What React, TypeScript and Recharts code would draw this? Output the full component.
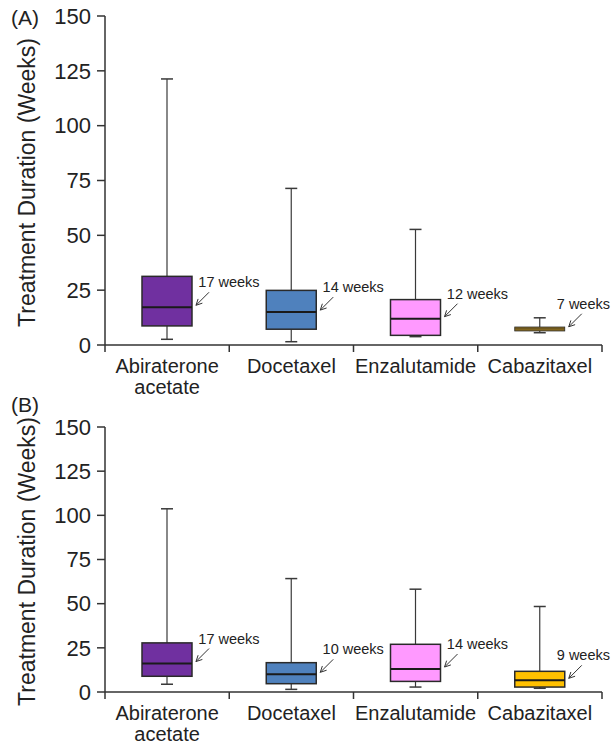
import React from 'react';
import { BarChart, Bar, XAxis, YAxis } from 'recharts';

const categories = ['Abiraterone acetate', 'Docetaxel', 'Enzalutamide', 'Cabazitaxel'];
const yTicks = [0, 25, 50, 75, 100, 125, 150];

// Panel A
const aMin = [2.6, 1.5, 3.8, 5.6];
const aQ1 = [8.7, 7.2, 4.4, 6.4];
const aMedian = [17.2, 15.0, 12.0, 7.4];
const aQ3 = [31.3, 24.9, 20.7, 8.2];
const aMax = [121.3, 71.4, 52.7, 12.4];
const aNotes = ['17 weeks', '14 weeks', '12 weeks', '7 weeks'];
const aColors = ['#7030A0', '#4F81BD', '#FF99FF', '#8C6D1F'];

// Panel B
const bMin = [4.4, 1.5, 2.8, 2.1];
const bQ1 = [8.9, 4.7, 6.0, 2.8];
const bMedian = [16.1, 10.0, 13.0, 6.6];
const bQ3 = [27.8, 16.6, 27.0, 11.7];
const bMax = [103.7, 64.2, 58.2, 48.4];
const bNotes = ['17 weeks', '10 weeks', '14 weeks', '9 weeks'];
const bColors = ['#7030A0', '#4F81BD', '#FF99FF', '#FFC000'];

const FONT = '"Liberation Sans", Arial, Helvetica, sans-serif';
const W = 613;

function buildRows(mins: number[], q1s: number[], meds: number[], q3s: number[], maxs: number[], notes: string[], colors: string[]) {
  return categories.map((name, i) => ({
    name,
    range: [mins[i], maxs[i]],
    min: mins[i],
    q1: q1s[i],
    median: meds[i],
    q3: q3s[i],
    max: maxs[i],
    note: notes[i],
    color: colors[i],
  }));
}

const dataA = buildRows(aMin, aQ1, aMedian, aQ3, aMax, aNotes, aColors);
const dataB = buildRows(bMin, bQ1, bMedian, bQ3, bMax, bNotes, bColors);

const BoxShape = (props: any) => {
  const { x, y, width, height } = props;
  const p = props.payload ?? props;
  const top = Math.min(y, y + height);
  const bottom = Math.max(y, y + height);
  const k = (bottom - top) / (p.max - p.min);
  const Y = (v: number) => bottom - (v - p.min) * k;
  const cx = x + width / 2;
  const right = x + width;
  const cap = 6;
  const ym = Y(p.median);
  const boxH = Math.max(Y(p.q1) - Y(p.q3), 1);
  const small = boxH < 8;
  // arrow
  const sx = right + 17, sy = ym - 15;
  const tx = right + 4, ty = ym - 2;
  const len = Math.hypot(tx - sx, ty - sy);
  const dx = (tx - sx) / len, dy = (ty - sy) / len;
  const px = -dy, py = dx;
  const h1x = tx - 6 * dx + 3 * px, h1y = ty - 6 * dy + 3 * py;
  const h2x = tx - 6 * dx - 3 * px, h2y = ty - 6 * dy - 3 * py;
  // note text
  const noteCenter = right + 37;
  const overflow = noteCenter + 30 > W;
  const noteX = overflow ? W - 3 : noteCenter;
  const anchor = overflow ? 'end' : 'middle';
  const wStroke = '#3a3a3a';
  return (
    <g>
      <line x1={cx} x2={cx} y1={Y(p.max)} y2={Y(p.q3)} stroke={wStroke} strokeWidth={1.2} />
      <line x1={cx} x2={cx} y1={Y(p.q1)} y2={Y(p.min)} stroke={wStroke} strokeWidth={1.2} />
      <line x1={cx - cap} x2={cx + cap} y1={Y(p.max)} y2={Y(p.max)} stroke={wStroke} strokeWidth={1.5} />
      <line x1={cx - cap} x2={cx + cap} y1={Y(p.min)} y2={Y(p.min)} stroke={wStroke} strokeWidth={1.5} />
      <rect x={x} y={Y(p.q3)} width={width} height={boxH} fill={p.color} stroke="#2a2a2a" strokeWidth={small ? 0.8 : 1.5} />
      <line x1={x} x2={right} y1={ym} y2={ym} stroke={small ? '#4a4020' : '#1a1a1a'} strokeWidth={small ? 0.6 : 2} />
      <line x1={sx} y1={sy} x2={tx} y2={ty} stroke="#333" strokeWidth={1} />
      <polyline points={`${h1x},${h1y} ${tx},${ty} ${h2x},${h2y}`} fill="none" stroke="#333" strokeWidth={1} />
      <text x={noteX} y={ym - 25} textAnchor={anchor} dominantBaseline="central" fontSize={14.5} fontFamily={FONT} fill="#222">
        {p.note}
      </text>
    </g>
  );
};

const CatTick = (props: any) => {
  const { x, y, payload, index } = props;
  const count = props.visibleTicksCount ?? categories.length;
  const axisWidth = props.width ?? 497;
  const half = axisWidth / count / 2;
  const words = String(payload.value).split(' ');
  const lines = words.length > 1 && words[0] === 'Abiraterone' ? [words[0], words.slice(1).join(' ')] : [String(payload.value)];
  return (
    <g>
      <line x1={x + half} x2={x + half} y1={y} y2={y + 7} stroke="#333" strokeWidth={1.5} />
      {index === 0 && <line x1={x - half} x2={x - half} y1={y} y2={y + 7} stroke="#333" strokeWidth={1.5} />}
      {lines.map((l, i) => (
        <text key={i} x={x} y={y + 21 + i * 21} textAnchor="middle" dominantBaseline="central" fontSize={20} fontFamily={FONT} fill="#222">
          {l}
        </text>
      ))}
    </g>
  );
};

const YLabel = (props: any) => {
  const vb = props.viewBox ?? { x: 0, y: 0, width: 105, height: 300 };
  const cx = vb.x + 27;
  const cy = vb.y + vb.height / 2 + 2;
  return (
    <text x={cx} y={cy} transform={`rotate(-90, ${cx}, ${cy})`} textAnchor="middle" dominantBaseline="central" fontSize={23} fontFamily={FONT} fill="#222">
      Treatment Duration (Weeks)
    </text>
  );
};

function Panel({ data, height, top, xAxisHeight }: { data: any[]; height: number; top: number; xAxisHeight: number }) {
  return (
    <BarChart width={W} height={height} data={data} margin={{ top, right: 11, left: 0, bottom: 0 }}>
      <XAxis
        dataKey="name"
        height={xAxisHeight}
        tickLine={false}
        tickSize={0}
        tickMargin={0}
        axisLine={{ stroke: '#333', strokeWidth: 1.5 }}
        tick={<CatTick />}
        interval={0}
      />
      <YAxis
        width={105}
        domain={[0, 150]}
        ticks={yTicks}
        tickSize={8}
        tickMargin={6}
        interval={0}
        axisLine={{ stroke: '#333', strokeWidth: 1.5 }}
        tickLine={{ stroke: '#333', strokeWidth: 1.5 }}
        tick={{ fontSize: 22, fontFamily: FONT, fill: '#222' }}
        label={<YLabel />}
        allowDataOverflow
      />
      <Bar dataKey="range" barSize={50} shape={<BoxShape />} isAnimationActive={false} />
    </BarChart>
  );
}

export default function App() {
  return (
    <div style={{ position: 'absolute', left: 0, top: 0, width: W, height: 745, background: '#fff', fontFamily: FONT }}>
      <div style={{ position: 'absolute', left: 0, top: 0 }}>
        <Panel data={dataA} height={400} top={16} xAxisHeight={55} />
      </div>
      <div style={{ position: 'absolute', left: 0, top: 400 }}>
        <Panel data={dataB} height={345} top={27} xAxisHeight={53} />
      </div>
      <div style={{ position: 'absolute', left: 11, top: 5, fontSize: 21, color: '#222', lineHeight: '26px' }}>(A)</div>
      <div style={{ position: 'absolute', left: 11, top: 392, fontSize: 21, color: '#222', lineHeight: '26px' }}>(B)</div>
    </div>
  );
}
